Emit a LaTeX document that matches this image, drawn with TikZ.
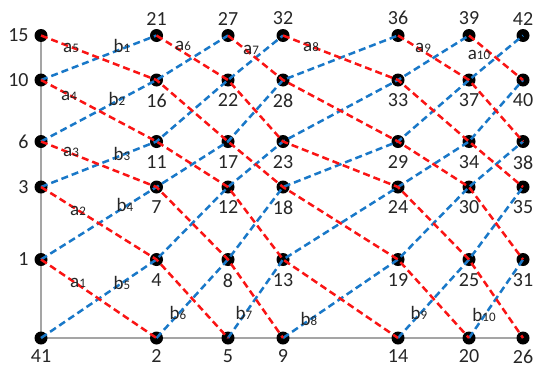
\documentclass[tikz,border=0pt]{standalone}
\usepackage{fontspec}
\setmainfont{Carlito}
\usepackage{tikz}
\usetikzlibrary{backgrounds}
\definecolor{linered}{RGB}{250,20,20}
\definecolor{lineblue}{RGB}{25,120,200}
\definecolor{axisgray}{RGB}{165,165,165}
\newcommand{\lsub}[1]{\raisebox{-0.5pt}{\fontsize{13}{13}\selectfont #1}}

\begin{document}
\begin{tikzpicture}[
        x=1pt, y=-1pt,
        every node/.style={font=\fontsize{20}{22}\selectfont},
        dot/.style={circle, fill=black, minimum size=13pt, inner sep=0pt},
        numlbl/.style={inner sep=2pt, text=black!85},
        nw/.style={label={[numlbl, xshift=-3.5pt]left:#1}},
        na/.style={label={[numlbl, yshift=1.5pt]above:#1}},
        nb/.style={label={[numlbl, yshift=-5pt]below:#1}},
        nbb/.style={label={[numlbl, yshift=-3pt]below:#1}},
        lab/.style={inner sep=0pt, font=\fontsize{19}{21}\selectfont, text=black!85},
        aline/.style={draw=linered, line width=2.5pt, dash pattern=on 7pt off 4pt},
        bline/.style={draw=lineblue, line width=2.5pt, dash pattern=on 7pt off 4pt},
        axis/.style={draw=axisgray, line width=1.3pt}
    ]
    \useasboundingbox (0,0) rectangle (534,367);

    % column 1
    \node[dot, nw=15]  (n15) at (41,35.5) {};
    \node[dot, nw=10]  (n10) at (41,80) {};
    \node[dot, nw=6]   (n6)  at (41,141.5) {};
    \node[dot, nw=3]   (n3)  at (41,187) {};
    \node[dot, nw=1]   (n1)  at (41,259.5) {};
    \node[dot, nbb=41] (n41) at (41,338) {};
    % column 2
    \node[dot, na=21]  (n21) at (156.5,35.5) {};
    \node[dot, nb=16]  (n16) at (156.5,80) {};
    \node[dot, nb=11]  (n11) at (156.5,141.5) {};
    \node[dot, nb=7]   (n7)  at (156.5,187) {};
    \node[dot, nb=4]   (n4)  at (156.5,259.5) {};
    \node[dot, nbb=2]  (n2)  at (156.5,338) {};
    % column 3
    \node[dot, na=27]  (n27) at (228,35.5) {};
    \node[dot, nb=22]  (n22) at (228,80) {};
    \node[dot, nb=17]  (n17) at (228,141.5) {};
    \node[dot, nb=12]  (n12) at (228,187) {};
    \node[dot, nb=8]   (n8)  at (228,259.5) {};
    \node[dot, nbb=5]  (n5)  at (228,338) {};
    % column 4
    \node[dot, na=32]  (n32) at (283,35.5) {};
    \node[dot, nb=28]  (n28) at (283,80) {};
    \node[dot, nb=23]  (n23) at (283,141.5) {};
    \node[dot, nb=18]  (n18) at (283,187) {};
    \node[dot, nb=13]  (n13) at (283,259.5) {};
    \node[dot, nbb=9]  (n9)  at (283,338) {};
    % column 5
    \node[dot, na=36]  (n36) at (398,35.5) {};
    \node[dot, nb=33]  (n33) at (398,80) {};
    \node[dot, nb=29]  (n29) at (398,141.5) {};
    \node[dot, nb=24]  (n24) at (398,187) {};
    \node[dot, nb=19]  (n19) at (398,259.5) {};
    \node[dot, nbb=14] (n14) at (398,338) {};
    % column 6
    \node[dot, na=39]  (n39) at (469,35.5) {};
    \node[dot, nb=37]  (n37) at (469,80) {};
    \node[dot, nb=34]  (n34) at (469,141.5) {};
    \node[dot, nb=30]  (n30) at (469,187) {};
    \node[dot, nb=25]  (n25) at (469,259.5) {};
    \node[dot, nbb=20] (n20) at (469,338) {};
    % column 7
    \node[dot, na=42]  (n42) at (523,35.5) {};
    \node[dot, nb=40]  (n40) at (523,80) {};
    \node[dot, nb=38]  (n38) at (523,141.5) {};
    \node[dot, nb=35]  (n35) at (523,187) {};
    \node[dot, nb=31]  (n31) at (523,259.5) {};
    \node[dot, nbb=26] (n26) at (523,338) {};

    % axes behind the dots
    \begin{scope}[on background layer]
        \draw[axis] (n15.center) -- (n41.center) -- (n26.center);
    \end{scope}

    % b lines
    \draw[bline] (n10.center) -- (n21.center);
    \draw[bline] (n6.center) -- (n16.center) -- (n27.center);
    \draw[bline] (n3.center) -- (n11.center) -- (n22.center) -- (n32.center);
    \draw[bline] (n1.center) -- (n7.center) -- (n17.center) -- (n28.center) -- (n36.center);
    \draw[bline] (n41.center) -- (n4.center) -- (n12.center) -- (n23.center) -- (n33.center) -- (n39.center);
    \draw[bline] (n2.center) -- (n8.center) -- (n18.center) -- (n29.center) -- (n37.center) -- (n42.center);
    \draw[bline] (n5.center) -- (n13.center) -- (n24.center) -- (n34.center) -- (n40.center);
    \draw[bline] (n9.center) -- (n19.center) -- (n30.center) -- (n38.center);
    \draw[bline] (n14.center) -- (n25.center) -- (n35.center);
    \draw[bline] (n20.center) -- (n31.center);

    % a lines
    \draw[aline] (n1.center) -- (n2.center);
    \draw[aline] (n3.center) -- (n4.center) -- (n5.center);
    \draw[aline] (n6.center) -- (n7.center) -- (n8.center) -- (n9.center);
    \draw[aline] (n10.center) -- (n11.center) -- (n12.center) -- (n13.center) -- (n14.center);
    \draw[aline] (n15.center) -- (n16.center) -- (n17.center) -- (n18.center) -- (n19.center) -- (n20.center);
    \draw[aline] (n21.center) -- (n22.center) -- (n23.center) -- (n24.center) -- (n25.center) -- (n26.center);
    \draw[aline] (n27.center) -- (n28.center) -- (n29.center) -- (n30.center) -- (n31.center);
    \draw[aline] (n32.center) -- (n33.center) -- (n34.center) -- (n35.center);
    \draw[aline] (n36.center) -- (n37.center) -- (n38.center);
    \draw[aline] (n39.center) -- (n40.center);

    % line labels
    \node[lab] (la1)  at (78,283)  {a\lsub{1}};
    \node[lab] (la2)  at (78,211)  {a\lsub{2}};
    \node[lab] (la3)  at (71,152)  {a\lsub{3}};
    \node[lab] (la4)  at (69,96)   {a\lsub{4}};
    \node[lab] (la5)  at (71,48)   {a\lsub{5}};
    \node[lab] (la6)  at (183,46)  {a\lsub{6}};
    \node[lab] (la7)  at (251,50)  {a\lsub{7}};
    \node[lab] (la8)  at (311,47)  {a\lsub{8}};
    \node[lab] (la9)  at (423,48)  {a\lsub{9}};
    \node[lab] (la10) at (479,55)  {a\lsub{10}};
    \node[lab] (lb1)  at (122,46)  {b\lsub{1}};
    \node[lab] (lb2)  at (117,99)  {b\lsub{2}};
    \node[lab] (lb3)  at (122,154) {b\lsub{3}};
    \node[lab] (lb4)  at (125,205) {b\lsub{4}};
    \node[lab] (lb5)  at (122,283) {b\lsub{5}};
    \node[lab] (lb6)  at (178,313) {b\lsub{6}};
    \node[lab] (lb7)  at (244,313) {b\lsub{7}};
    \node[lab] (lb8)  at (309,319) {b\lsub{8}};
    \node[lab] (lb9)  at (419,313) {b\lsub{9}};
    \node[lab] (lb10) at (484,315) {b\lsub{10}};
\end{tikzpicture}
\end{document}
